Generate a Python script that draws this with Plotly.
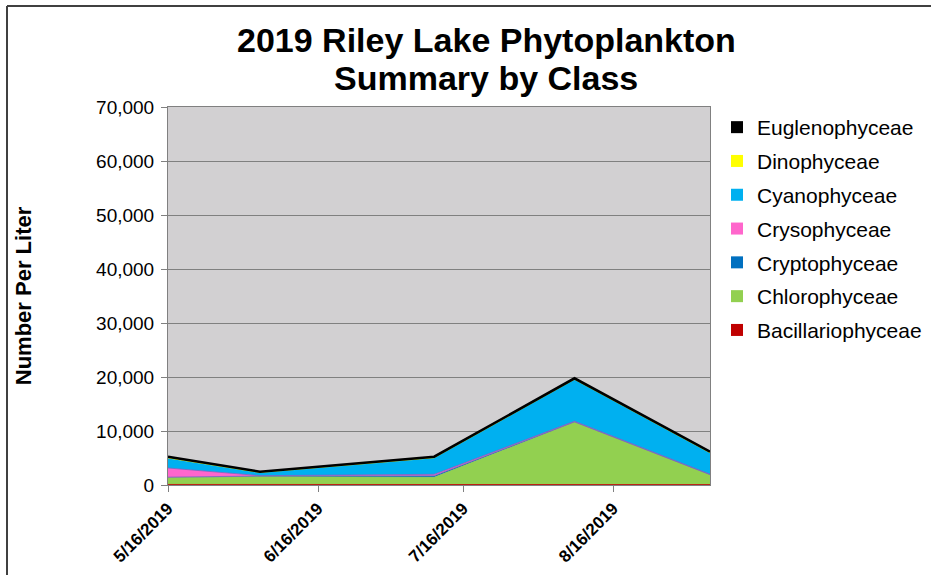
# _*_ coding: utf-8 _*_

"""
2019 Riley Lake phytoplankton, stacked area by class
"""

import datetime as dt

import plotly.graph_objects as go

# data ================================================================================================
dates = ["2019-05-16", "2019-06-04", "2019-07-10", "2019-08-08", "2019-09-05"]

bacillariophyceae = [100, 80, 80, 120, 80]
chlorophyceae = [1250, 1460, 1340, 11480, 1770]
cryptophyceae = [100, 130, 300, 100, 80]
crysophyceae = [1700, 60, 260, 100, 70]
cyanophyceae = [1850, 580, 3060, 7760, 3970]
dinophyceae = [0, 0, 0, 0, 0]
euglenophyceae = [240, 150, 200, 200, 200]

tick_dates = ["2019-05-16", "2019-06-16", "2019-07-16", "2019-08-16"]
y_ticks = [0, 10000, 20000, 30000, 40000, 50000, 60000, 70000]

series = [
    ("Bacillariophyceae", bacillariophyceae, "#c00000"),
    ("Chlorophyceae", chlorophyceae, "#92d050"),
    ("Cryptophyceae", cryptophyceae, "#0070c0"),
    ("Crysophyceae", crysophyceae, "#ff66cc"),
    ("Cyanophyceae", cyanophyceae, "#00b0f0"),
    ("Dinophyceae", dinophyceae, "#ffff00"),
    ("Euglenophyceae", euglenophyceae, "#000000"),
]

# figure ==============================================================================================
W, H = 931, 575
L, R, T, B = 168, 221, 107, 90
PW, PH = W - L - R, H - T - B

fig = go.Figure()
for name, vals, col in series:
    lw = 2.5 if name == "Euglenophyceae" else 0.8
    lcol = "#7f5fbf" if name in ("Cryptophyceae", "Crysophyceae") else col
    fig.add_trace(go.Scatter(
        x=dates, y=vals, name=name, mode="lines", stackgroup="one",
        line=dict(color=lcol, width=lw), fillcolor=col, showlegend=False,
    ))

# square legend keys, like the Excel original (top of stack listed first)
for name, vals, col in series[::-1]:
    fig.add_trace(go.Scatter(
        x=[None], y=[None], name=name, mode="markers", legendgroup=name,
        marker=dict(symbol="square", size=12, color=col),
    ))

tick_text = ["<b>%s</b>" % dt.date.fromisoformat(d).strftime("%-m/%-d/%Y") for d in tick_dates]

fig.update_layout(
    width=W, height=H,
    margin=dict(l=L, r=R, t=T, b=B, autoexpand=False),
    paper_bgcolor="white",
    plot_bgcolor="#d2d0d2",
    font=dict(family="Liberation Sans, Arial", color="black"),
    showlegend=True,
    legend=dict(
        traceorder="grouped",
        xref="container", yref="container",
        x=717 / W, xanchor="left", y=1 - 107 / H, yanchor="top",
        font=dict(size=21), tracegroupgap=3.5,
        bgcolor="rgba(0,0,0,0)",
    ),
    xaxis=dict(
        range=[dates[0], dates[-1]], automargin=False,
        tickvals=tick_dates, ticktext=tick_text,
        tickangle=-45, tickfont=dict(size=17),
        ticks="outside", ticklen=6, tickcolor="#808080",
        showgrid=False, showline=True, linecolor="#808080", mirror=True,
    ),
    yaxis=dict(
        range=[0, 70000], tickvals=y_ticks, tickformat=",d", automargin=False,
        tickfont=dict(size=19), ticklabelstandoff=3,
        ticks="outside", ticklen=6, tickcolor="#808080",
        showgrid=True, gridcolor="#808080", gridwidth=1,
        showline=True, linecolor="#808080", mirror=True, zeroline=False,
        title=dict(text="<b>Number Per Liter</b>", font=dict(size=22), standoff=58),
    ),
)

# title as two centred lines
for txt, yc in (("2019 Riley Lake Phytoplankton", 40), ("Summary by Class", 78)):
    fig.add_annotation(
        text="<b>%s</b>" % txt, showarrow=False,
        xref="paper", yref="paper",
        x=(486 - L) / PW, xanchor="center",
        y=(H - B - yc) / PH, yanchor="middle",
        font=dict(size=34, color="black"),
    )

# outer frame (top and left edges are visible in the original)
fx = (7 - L) / PW
fy = (H - B - 6) / PH
fig.add_shape(type="line", xref="paper", yref="paper", x0=fx, x1=(W - L) / PW, y0=fy, y1=fy,
              line=dict(color="#404040", width=2))
fig.add_shape(type="line", xref="paper", yref="paper", x0=fx, x1=fx, y0=-B / PH, y1=fy,
              line=dict(color="#404040", width=2))

fig.write_html("out.html", config={"displayModeBar": False},
               post_script="document.body.style.margin='0';")
